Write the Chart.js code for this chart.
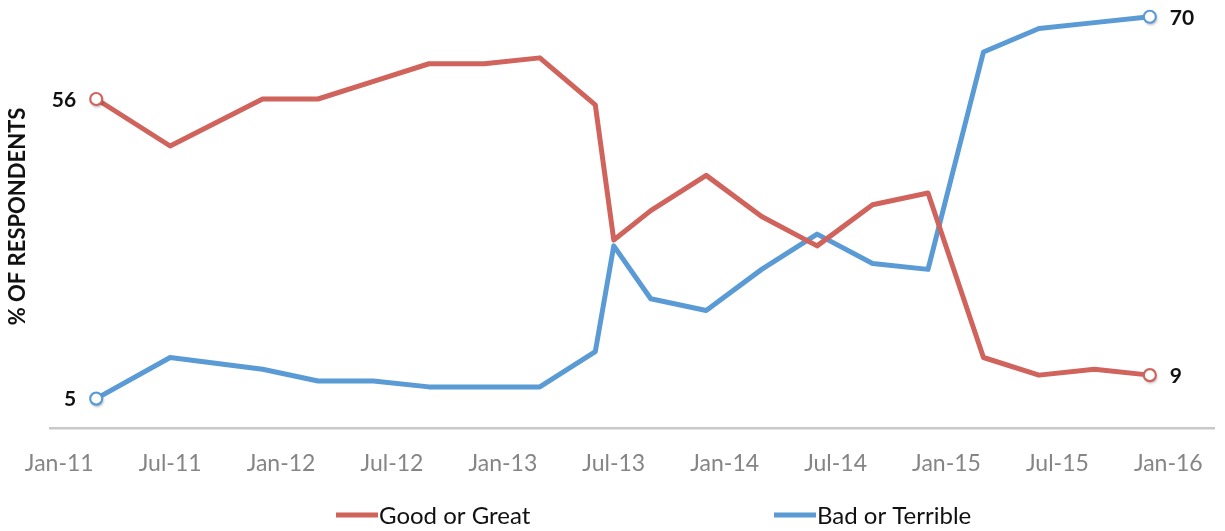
<!DOCTYPE html>
<html>
<head>
<meta charset="utf-8">
<script src="https://cdn.jsdelivr.net/npm/chart.js@4"></script>
<style>
  body { margin: 0; background: #fff; }
  #wrap { width: 1225px; height: 531px; }
</style>
</head>
<body>
<div id="wrap"><canvas id="trendChart"></canvas></div>
<script>
// survey dates and answers (% of respondents)
let surveyDates = ["Mar-11", "Jul-11", "Dec-11", "Mar-12", "Jun-12", "Sep-12", "Dec-12", "Mar-13", "Jun-13", "Jul-13",
                   "Sep-13", "Dec-13", "Mar-14", "Jun-14", "Sep-14", "Dec-14", "Mar-15", "Jun-15", "Sep-15", "Dec-15"];
let goodOrGreat = [56, 48, 56, 56, 59, 62, 62, 63, 55, 32, 37, 43, 36, 31, 38, 40, 12, 9, 10, 9];
let badOrTerrible = [5, 12, 10, 8, 8, 7, 7, 7, 13, 31, 22, 20, 27, 33, 28, 27, 64, 68, 69, 70];
let tickLabels = ["Jan-11", "Jul-11", "Jan-12", "Jul-12", "Jan-13", "Jul-13", "Jan-14", "Jul-14", "Jan-15", "Jul-15", "Jan-16"];

let RED = "#d0635b";
let BLUE = "#5b9bd5";
let FONT = "Lato, 'Open Sans', sans-serif";

// months counted from Jan-11
let monthNames = ["Jan", "Feb", "Mar", "Apr", "May", "Jun", "Jul", "Aug", "Sep", "Oct", "Nov", "Dec"];
function monthIndex(s) {
    let parts = s.split("-");
    return (parseInt(parts[1], 10) - 11) * 12 + monthNames.indexOf(parts[0]);
}
function toPoints(values) {
    return values.map((v, i) => ({ x: monthIndex(surveyDates[i]), y: v }));
}

// open circles + value labels on the first and last point of each line
let endLabels = {
    id: "endLabels",
    afterDatasetsDraw(chart) {
        let ctx = chart.ctx;
        chart.data.datasets.forEach((ds, di) => {
            let meta = chart.getDatasetMeta(di);
            let last = meta.data.length - 1;
            [0, last].forEach(i => {
                let pt = meta.data[i];
                ctx.save();
                ctx.shadowColor = "rgba(0,0,0,0.35)";
                ctx.shadowBlur = 3;
                ctx.shadowOffsetX = 1;
                ctx.shadowOffsetY = 2;
                ctx.beginPath();
                ctx.arc(pt.x, pt.y, 6, 0, Math.PI * 2);
                ctx.fillStyle = "#fff";
                ctx.fill();
                ctx.restore();
                ctx.save();
                ctx.beginPath();
                ctx.arc(pt.x, pt.y, 6, 0, Math.PI * 2);
                ctx.lineWidth = 2.2;
                ctx.strokeStyle = ds.borderColor;
                ctx.stroke();

                ctx.font = "bold 21px " + FONT;
                ctx.fillStyle = "#111";
                ctx.textBaseline = "middle";
                ctx.textAlign = i === 0 ? "right" : "left";
                let dx = i === 0 ? -20 : 20;
                ctx.fillText(String(ds.data[i].y), pt.x + dx, pt.y + 1);
                ctx.restore();
            });
        });
    }
};

// legend spread under the plot
let bottomLegend = {
    id: "bottomLegend",
    afterDraw(chart) {
        let ctx = chart.ctx;
        let starts = [336, 774];
        ctx.save();
        ctx.font = "24px " + FONT;
        ctx.textBaseline = "middle";
        ctx.textAlign = "left";
        chart.data.datasets.forEach((ds, i) => {
            let x = starts[i];
            let y = 515;
            ctx.strokeStyle = ds.borderColor;
            ctx.lineWidth = 5;
            ctx.beginPath();
            ctx.moveTo(x, y);
            ctx.lineTo(x + 42, y);
            ctx.stroke();
            ctx.fillStyle = "#111";
            ctx.fillText(ds.label, x + 43, y + 1);
        });
        ctx.restore();
    }
};

let ctx1 = document.getElementById("trendChart");

new Chart(ctx1, {
    type: "line",
    data: {
        datasets: [{
            label: "Good or Great",
            data: toPoints(goodOrGreat),
            borderColor: RED,
            borderWidth: 5,
            pointRadius: 0,
            tension: 0,
            borderJoinStyle: "round"
        }, {
            label: "Bad or Terrible",
            data: toPoints(badOrTerrible),
            borderColor: BLUE,
            borderWidth: 5,
            pointRadius: 0,
            tension: 0,
            borderJoinStyle: "round"
        }]
    },
    options: {
        responsive: true,
        maintainAspectRatio: false,
        animation: false,
        layout: { padding: { top: 5, right: 8, left: 0, bottom: 0 } },
        plugins: {
            legend: { display: false },
            tooltip: { enabled: false }
        },
        scales: {
            x: {
                type: "linear",
                min: -0.5,
                max: 62.5,
                afterFit: scale => { scale.height = 103; },
                grid: { display: false, drawTicks: false },
                border: { display: true, color: "#c9c9c9", width: 2.5 },
                ticks: {
                    stepSize: 6,
                    includeBounds: false,
                    autoSkip: false,
                    maxRotation: 0,
                    padding: 22,
                    color: "#858585",
                    font: { family: FONT, size: 23 },
                    callback: v => (v % 6 === 0 ? tickLabels[v / 6] : "")
                }
            },
            y: {
                min: 0,
                max: 72,
                afterFit: scale => { scale.width = 50; },
                grid: { display: false },
                border: { display: false },
                ticks: { display: false },
                title: {
                    display: true,
                    text: "% OF RESPONDENTS",
                    color: "#111",
                    padding: { top: 5, bottom: 0 },
                    font: { family: FONT, size: 22, weight: "bold" }
                }
            }
        }
    },
    plugins: [endLabels, bottomLegend]
});
</script>
</body>
</html>
